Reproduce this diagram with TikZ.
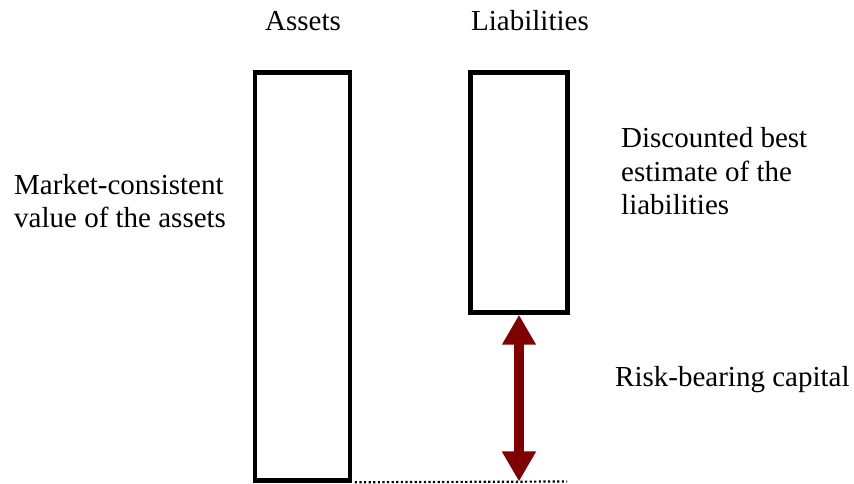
\documentclass[tikz,border=0pt]{standalone}
\usepackage{fontspec}
\setmainfont{Liberation Serif}
\usetikzlibrary{arrows.meta, positioning}

\definecolor{capred}{RGB}{127,0,0}

\begin{document}
\begin{tikzpicture}[x=1pt,y=1pt,
    font=\fontsize{29}{33.5}\selectfont,
    column/.style={draw, line width=4.5pt, inner sep=0pt},
    lbl/.style={inner sep=0pt, align=left, anchor=base west}]
		\useasboundingbox (0,0) rectangle (854,484);

		% balance sheet columns
		\node[column, minimum width=95pt, minimum height=408pt] (assets) at (302.5,207.5) {};
		\node[column, minimum width=97pt, minimum height=240pt] (liab) at (519,291.5) {};

		\node[inner sep=0pt, anchor=base] (assetstitle) at (303,453) {Assets};
		\node[inner sep=0pt, anchor=base] (liabtitle) at (530,453) {Liabilities};

		% base of a multi-line label = its last line
		\node[lbl] (mcv) at (14,256) {Market-consistent\\value of the assets};
		\node[lbl] (dbe) at (621,269) {Discounted best\\estimate of the\\liabilities};
		\node[lbl] (rbc) at (615,97) {Risk-bearing capital};

		% capital gap
		\coordinate (gapend) at (567,2.5);
		\coordinate (gapbase) at (liab.south |- gapend);
		\draw[line width=2.2pt, dash pattern=on 2.2pt off 2.4pt] (assets.south east) ++(2.5,0.5) -- (gapend);
		\draw[capred, line width=10pt, {Triangle[width=32pt, length=30pt]}-{Triangle[width=32pt, length=30pt]}] (liab.south) -- (gapbase);
	\end{tikzpicture}
\end{document}
